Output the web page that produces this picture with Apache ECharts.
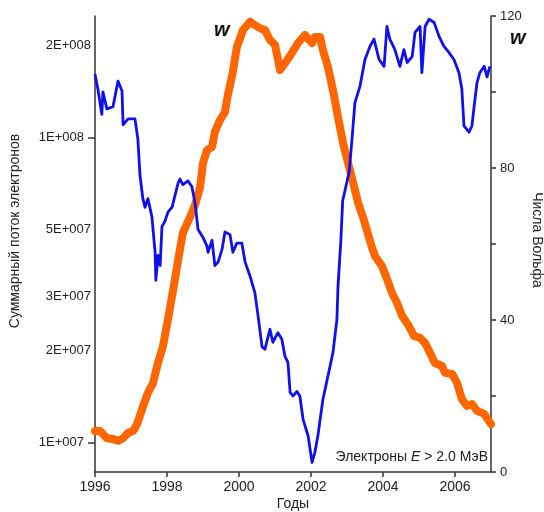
<!DOCTYPE html>
<html>
<head>
<meta charset="utf-8">
<script src="https://cdn.jsdelivr.net/npm/echarts@6/dist/echarts.min.js"></script>
<style>
  html, body { margin: 0; padding: 0; background: #fff; }
  #chart { width: 544px; height: 512px; }
</style>
</head>
<body>
<div id="chart"></div>
<script>
// Electron flux E > 2.0 MeV (left, log axis)
const electronYears = [
  1996.00, 1996.08, 1996.19, 1996.22, 1996.33, 1996.50, 1996.64, 1996.75, 1996.78, 1996.92,
  1997.11, 1997.19, 1997.25, 1997.33, 1997.39, 1997.47, 1997.58, 1997.67, 1997.69, 1997.75,
  1997.81, 1997.86, 1997.94, 1998.03, 1998.14, 1998.31, 1998.36, 1998.44, 1998.58, 1998.69,
  1998.78, 1998.86, 1999.00, 1999.11, 1999.14, 1999.25, 1999.33, 1999.42, 1999.53, 1999.61,
  1999.75, 1999.83, 1999.94, 2000.08, 2000.17, 2000.31, 2000.44, 2000.53, 2000.64, 2000.72,
  2000.86, 2000.94, 2001.08, 2001.19, 2001.28, 2001.36, 2001.42, 2001.50, 2001.61, 2001.69,
  2001.78, 2001.92, 2002.03, 2002.11, 2002.19, 2002.33, 2002.47, 2002.61, 2002.72, 2002.75,
  2002.83, 2002.88, 2003.06, 2003.14, 2003.22, 2003.36, 2003.50, 2003.64, 2003.75, 2003.89,
  2004.03, 2004.11, 2004.19, 2004.33, 2004.47, 2004.58, 2004.67, 2004.81, 2004.89, 2005.03,
  2005.08, 2005.17, 2005.28, 2005.42, 2005.56, 2005.69, 2005.83, 2005.97, 2006.11, 2006.19,
  2006.25, 2006.39, 2006.47, 2006.53, 2006.61, 2006.69, 2006.81, 2006.89, 2006.97
];
const electronFlux = [
  1.61e8, 1.44e8, 1.19e8, 1.41e8, 1.24e8, 1.26e8, 1.53e8, 1.42e8, 1.10e8, 1.15e8,
  1.15e8, 9.9e7, 7.5e7, 6.3e7, 5.9e7, 6.3e7, 5.5e7, 4.2e7, 3.4e7, 4.1e7,
  3.8e7, 5.1e7, 5.3e7, 5.7e7, 5.9e7, 7.1e7, 7.3e7, 7.0e7, 7.2e7, 6.9e7,
  6.1e7, 5.0e7, 4.7e7, 4.4e7, 4.2e7, 4.6e7, 3.8e7, 3.9e7, 4.3e7, 4.9e7,
  4.8e7, 4.2e7, 4.5e7, 4.5e7, 3.9e7, 3.5e7, 3.1e7, 2.6e7, 2.06e7, 2.02e7,
  2.35e7, 2.13e7, 2.29e7, 2.18e7, 1.91e7, 1.83e7, 1.46e7, 1.42e7, 1.47e7, 1.42e7,
  1.19e7, 1.05e7, 8.6e6, 9.3e6, 1.05e7, 1.38e7, 1.65e7, 1.97e7, 2.53e7, 3.25e7,
  4.6e7, 6.2e7, 7.7e7, 9.9e7, 1.30e8, 1.47e8, 1.80e8, 1.99e8, 2.10e8, 1.80e8,
  1.71e8, 2.31e8, 2.10e8, 1.94e8, 1.71e8, 1.94e8, 1.76e8, 1.84e8, 2.21e8, 2.31e8,
  1.63e8, 2.31e8, 2.44e8, 2.38e8, 2.14e8, 1.99e8, 1.90e8, 1.80e8, 1.63e8, 1.44e8,
  1.09e8, 1.04e8, 1.09e8, 1.26e8, 1.51e8, 1.63e8, 1.71e8, 1.58e8, 1.71e8
];

// Wolf sunspot numbers (right axis)
const wolfYears = [
  1996.00, 1996.14, 1996.33, 1996.50, 1996.64, 1996.78, 1996.92, 1997.06, 1997.17, 1997.31,
  1997.47, 1997.61, 1997.75, 1997.89, 1998.03, 1998.17, 1998.31, 1998.44, 1998.64, 1998.78,
  1998.92, 1999.00, 1999.11, 1999.25, 1999.33, 1999.47, 1999.61, 1999.69, 1999.83, 1999.94,
  2000.11, 2000.31, 2000.44, 2000.58, 2000.72, 2000.86, 2001.00, 2001.14, 2001.28, 2001.47,
  2001.64, 2001.83, 2002.03, 2002.11, 2002.25, 2002.33, 2002.47, 2002.61, 2002.75, 2002.89,
  2003.03, 2003.17, 2003.31, 2003.47, 2003.69, 2003.78, 2003.97, 2004.11, 2004.25, 2004.39,
  2004.53, 2004.72, 2004.86, 2005.03, 2005.17, 2005.31, 2005.44, 2005.64, 2005.72, 2005.92,
  2006.06, 2006.19, 2006.33, 2006.47, 2006.61, 2006.81, 2007.00
];
const wolfNumbers = [
  10.8, 10.8, 8.9, 8.7, 8.2, 8.9, 10.3, 10.8, 12.6, 16.6,
  20.8, 23.4, 28.7, 33.2, 40.3, 47.9, 55.8, 62.9, 67.1, 70.3,
  75.0, 81.3, 84.7, 85.5, 89.5, 92.6, 94.7, 99.2, 105.3, 111.8,
  116.3, 118.5, 117.6, 116.8, 116.3, 113.7, 112.4, 105.8, 107.6, 110.3,
  112.9, 115.0, 112.9, 114.5, 114.5, 111.1, 106.6, 100.5, 93.4, 86.6,
  81.3, 76.1, 70.8, 66.3, 59.2, 56.8, 54.2, 50.8, 47.1, 44.5,
  41.1, 38.4, 35.8, 35.3, 33.9, 31.3, 28.7, 27.9, 26.1, 25.8,
  23.4, 19.2, 17.4, 17.9, 16.1, 15.3, 12.6
];

const fluxLabelValues = [1e7, 2e7, 3e7, 5e7, 1e8, 2e8];
const fluxTickValues = [1e7, 1e8];

const FONT = '"Liberation Sans", Arial, sans-serif';
const AXIS_COLOR = '#333';
const TEXT_COLOR = '#222';

function fluxLabel(value) {
  const exp = Math.floor(Math.log10(value) + 1e-9);
  const mant = Math.round(value / Math.pow(10, exp));
  const text = `${mant}E+${String(exp).padStart(3, '0')}`;
  // labels next to a tick mark sit a bit further from the axis
  return mant === 1 ? `{t|${text}}` : text;
}

const chart = echarts.init(document.getElementById('chart'), null, { renderer: 'canvas' });

const axisLineStyle = { color: AXIS_COLOR, width: 1.5 };

chart.setOption({
  animation: false,
  backgroundColor: '#fff',
  grid: { left: 95, right: 53, top: 16, bottom: 40, containLabel: false, outerBoundsMode: 'none' },
  xAxis: {
    type: 'value',
    min: 1996,
    max: 2007,
    interval: 2,
    axisLine: { lineStyle: axisLineStyle },
    axisTick: { length: 5, lineStyle: axisLineStyle },
    axisLabel: {
      showMaxLabel: false,
      margin: 8,
      color: TEXT_COLOR,
      fontFamily: FONT,
      fontSize: 14,
      formatter: (v) => String(v)
    },
    splitLine: { show: false },
    name: 'Годы',
    nameLocation: 'middle',
    nameGap: 25,
    nameMoveOverlap: false,
    nameTextStyle: { color: TEXT_COLOR, fontFamily: FONT, fontSize: 14 }
  },
  yAxis: [
    {
      type: 'log',
      min: 8.0e6,
      max: 2.5e8,
      position: 'left',
      axisLine: { show: true, lineStyle: axisLineStyle },
      axisTick: { show: true, length: 7, customValues: fluxTickValues, lineStyle: axisLineStyle },
      axisLabel: {
        customValues: fluxLabelValues,
        formatter: fluxLabel,
        margin: 4,
        color: TEXT_COLOR,
        fontFamily: FONT,
        fontSize: 13,
        rich: {
          t: { padding: [0, 7, 0, 0], color: TEXT_COLOR, fontFamily: FONT, fontSize: 13 }
        }
      },
      splitLine: { show: false },
      name: 'Суммарный поток электронов',
      nameLocation: 'middle',
      nameGap: 73,
      nameMoveOverlap: false,
      nameTextStyle: { color: TEXT_COLOR, fontFamily: FONT, fontSize: 14, padding: [0, 0, 0, 26] }
    },
    {
      type: 'value',
      min: 0,
      max: 120,
      interval: 20,
      position: 'right',
      axisLine: { show: true, lineStyle: axisLineStyle },
      axisTick: { show: true, length: 5, lineStyle: axisLineStyle },
      axisLabel: {
        margin: 9,
        color: TEXT_COLOR,
        fontFamily: FONT,
        fontSize: 13,
        formatter: (v) => (v % 40 === 0 ? String(v) : '')
      },
      splitLine: { show: false },
      name: 'Числа Вольфа',
      nameLocation: 'middle',
      nameRotate: -90,
      nameGap: 39,
      nameMoveOverlap: false,
      nameTextStyle: { color: TEXT_COLOR, fontFamily: FONT, fontSize: 14, padding: [0, 8, 0, 0] }
    }
  ],
  graphic: [
    {
      type: 'text',
      left: 214,
      top: 20,
      style: { text: 'w', font: `italic bold 20px ${FONT}`, fill: '#111' }
    },
    {
      type: 'text',
      left: 510,
      top: 28,
      style: { text: 'w', font: `italic bold 20px ${FONT}`, fill: '#111' }
    },
    {
      type: 'text',
      right: 56,
      top: 450,
      style: {
        text: '{n|Электроны }{e|E}{n| > 2.0 МэВ}',
        rich: {
          n: { fontFamily: FONT, fontSize: 14, fill: TEXT_COLOR },
          e: { fontFamily: FONT, fontSize: 14, fontStyle: 'italic', fill: TEXT_COLOR }
        }
      }
    }
  ],
  series: [
    {
      name: 'W',
      type: 'line',
      yAxisIndex: 1,
      symbol: 'none',
      z: 2,
      lineStyle: { color: '#ff6600', width: 8, cap: 'round', join: 'round' },
      data: wolfYears.map((y, i) => [y, wolfNumbers[i]])
    },
    {
      name: 'Электроны',
      type: 'line',
      yAxisIndex: 0,
      symbol: 'none',
      z: 3,
      lineStyle: { color: '#1010ee', width: 2.8, join: 'round' },
      data: electronYears.map((y, i) => [y, electronFlux[i]])
    }
  ]
});
</script>
</body>
</html>
